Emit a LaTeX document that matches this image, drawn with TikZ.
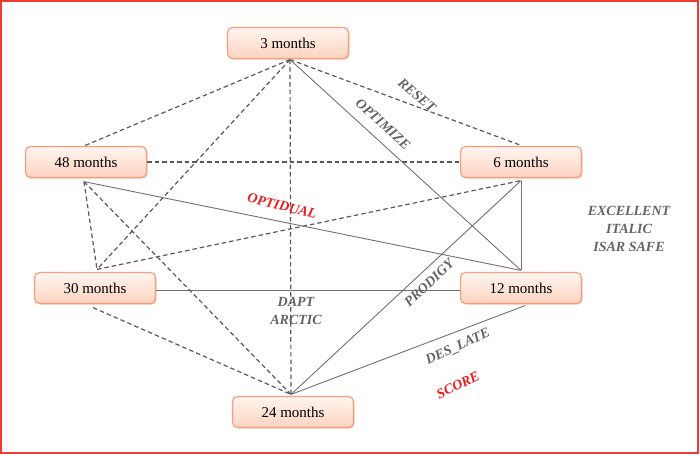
\documentclass[tikz,border=0pt]{standalone}
\usepackage{fontspec}
\setmainfont{Liberation Serif}
\usetikzlibrary{shadows}
\definecolor{boxline}{HTML}{F4A07E}
\definecolor{boxtop}{HTML}{FFF5F0}
\definecolor{boxbot}{HTML}{FCD3C0}
\definecolor{lblgray}{HTML}{646464}
\definecolor{lblred}{HTML}{EE1C1C}
\definecolor{framered}{HTML}{EE3B33}
\definecolor{linegray}{HTML}{707070}
\begin{document}
\begin{tikzpicture}[x=1pt,y=-1pt,
  box/.style={draw=boxline, line width=1.2pt, rounded corners=5pt,
    top color=boxtop, bottom color=boxbot,
    drop shadow={shadow xshift=1pt, shadow yshift=-1.2pt, fill=boxline, opacity=0.6},
    minimum width=121pt, minimum height=31pt, font=\fontsize{15}{17}\selectfont},
  dline/.style={dashed, dash pattern=on 4.5pt off 3pt, line width=1.2pt, draw=black!65},
  sline/.style={line width=0.9pt, draw=linegray},
  lbl/.style={font=\fontsize{14}{18}\selectfont\bfseries\itshape, text=lblgray, align=center},
  rlbl/.style={lbl, text=lblred}]
  \useasboundingbox (0,0) rectangle (700,455);
  \draw[framered, line width=2pt] (1,1) rectangle (698,453);

  \node[box] (m3) at (288,43) {3 months};
  \node[box] (m48) at (86,162) {48 months};
  \node[box] (m6) at (521,162) {6 months};
  \node[box] (m30) at (95,288) {30 months};
  \node[box] (m12) at (521,288) {12 months};
  \node[box] (m24) at (293,412) {24 months};

  % ends of the connectors, just off the boxes
  \coordinate (a3) at ([xshift=2pt,yshift=-0.5pt]m3.south);
  \coordinate (a48t) at ([xshift=-2pt]m48.north);
  \coordinate (a48b) at ([xshift=-2pt,yshift=-3.5pt]m48.south);
  \coordinate (a30t) at ([xshift=2pt,yshift=2.5pt]m30.north);
  \coordinate (a30b) at ([xshift=-2pt,yshift=-3.5pt]m30.south);
  \coordinate (a6t) at ([yshift=0.5pt]m6.north);
  \coordinate (a6b) at ([yshift=-2.5pt]m6.south);
  \coordinate (a12t) at ([yshift=1.5pt]m12.north);
  \coordinate (a12b) at ([xshift=4pt,yshift=-1.5pt]m12.south);
  \coordinate (a24) at ([xshift=-2pt,yshift=1.5pt]m24.north);

  \draw[dline] (a3) -- (a48t);
  \draw[dline] (a3) -- (a30t);
  \draw[dline] (a3) -- (a24);
  \draw[dline] (a3) -- (a6t);
  \draw[dline] (a48b) -- (a30t);
  \draw[dline] (a48b) -- (a24);
  \draw[dline] (a30t) -- (a6b);
  \draw[dline] (a30b) -- (a24);
  \draw[dline] (m48.east) -- (m6.west);

  \draw[sline] (a3) -- (a12t);
  \draw[sline] (a48b) -- (a12t);
  \draw[sline] (a6b) -- (a12t);
  \draw[sline] (a6b) -- (a24);
  \draw[sline] (a12b) -- (a24);
  \draw[sline] ([yshift=-2pt]m30.east) -- ([yshift=-2pt]m12.west);

  \node[lbl, rotate=-40] (reset) at (417,95) {RESET};
  \node[lbl, rotate=-42] (optimize) at (383,124) {OPTIMIZE};
  \node[rlbl, rotate=-14] (optidual) at (282,206) {OPTIDUAL};
  \node[lbl] (dapt) at (296,311) {DAPT\\ARCTIC};
  \node[lbl, rotate=43] (prodigy) at (429,283) {PRODIGY};
  \node[lbl, rotate=25] (deslate) at (458,347) {DES\_LATE};
  \node[rlbl, rotate=26] (score) at (458,385) {SCORE};
  \node[lbl] (excellent) at (629,229) {EXCELLENT\\ITALIC\\ISAR SAFE};
\end{tikzpicture}
\end{document}
